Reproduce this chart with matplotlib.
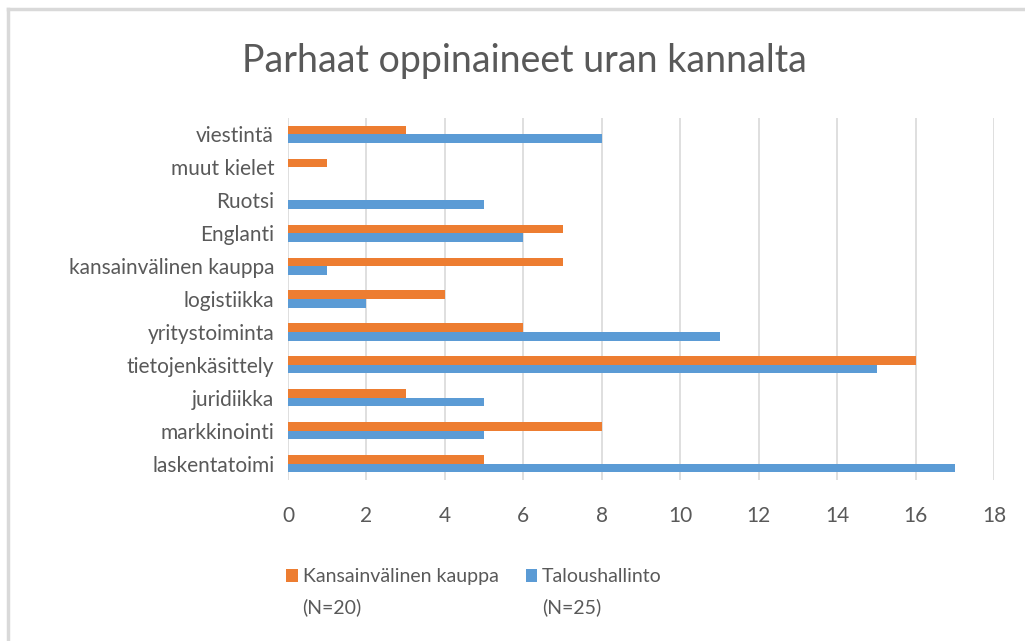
import matplotlib
matplotlib.use("Agg")
import matplotlib.pyplot as plt
import numpy as np

plt.rcParams['font.family'] = ['Lato', 'DejaVu Sans']

categories = ["laskentatoimi", "markkinointi", "juridiikka", "tietojenkäsittely",
              "yritystoiminta", "logistiikka", "kansainvälinen kauppa", "Englanti",
              "Ruotsi", "muut kielet", "viestintä"]
kv_kauppa = [5, 8, 3, 16, 6, 4, 7, 7, 0, 1, 3]
talous = [17, 5, 5, 15, 11, 2, 1, 6, 5, 0, 8]
series_names = ["Kansainvälinen kauppa", "Taloushallinto"]
series_n = ["(N=20)", "(N=25)"]
xticks = list(range(0, 19, 2))
title = "Parhaat oppinaineet uran kannalta"

ORANGE = "#ED7D31"
BLUE = "#5B9BD5"
TEXT = "#595959"
GRID = "#D9D9D9"

fig = plt.figure(figsize=(10.25, 6.41), dpi=100)
ax = fig.add_axes([0.281, 0.251, 0.689, 0.565])

y = np.arange(len(categories))
h = 0.26
b1 = ax.barh(y + h / 2, kv_kauppa, height=h, color=ORANGE, zorder=3)
b2 = ax.barh(y - h / 2, talous, height=h, color=BLUE, zorder=3)

ax.set_xlim(0, 18)
ax.set_ylim(-0.5, len(categories) - 0.5)
ax.set_xticks(xticks)
ax.set_xticklabels([str(t) for t in xticks])
ax.set_yticks(y)
ax.set_yticklabels(categories)
ax.tick_params(axis='both', length=0, labelsize=15, colors=TEXT)
ax.tick_params(axis='x', pad=19)
ax.tick_params(axis='y', pad=10)
ax.xaxis.grid(True, color=GRID, linewidth=1.2, zorder=0)
for s in ax.spines.values():
    s.set_visible(False)

fig.text(0.512, 0.905, title, ha='center', va='center', fontsize=27, color=TEXT)

leg = fig.legend(handles=[b1, b2], labels=series_names, loc='center left',
                 bbox_to_anchor=(0.262, 0.1), ncol=2, frameon=False,
                 fontsize=14, handlelength=0.6, handleheight=0.6,
                 handletextpad=0.25, columnspacing=1.4, labelcolor=TEXT)

# second line of each legend label, placed under the legend text
fig.canvas.draw()
inv = fig.transFigure.inverted()
for txt, n in zip(leg.get_texts(), series_n):
    bb = txt.get_window_extent(fig.canvas.get_renderer())
    x0, y0 = inv.transform((bb.x0, bb.y0))
    fig.text(x0, y0 - 0.02, n, ha='left', va='top', fontsize=14, color=TEXT)

# outer frame (top and left edges visible)
fig.add_artist(plt.Line2D([0.008, 1.0], [0.986, 0.986], color="#D9D9D9", lw=2.5, transform=fig.transFigure))
fig.add_artist(plt.Line2D([0.008, 0.008], [0.0, 0.986], color="#D9D9D9", lw=2.5, transform=fig.transFigure))

fig.savefig("out.png", dpi=100)
